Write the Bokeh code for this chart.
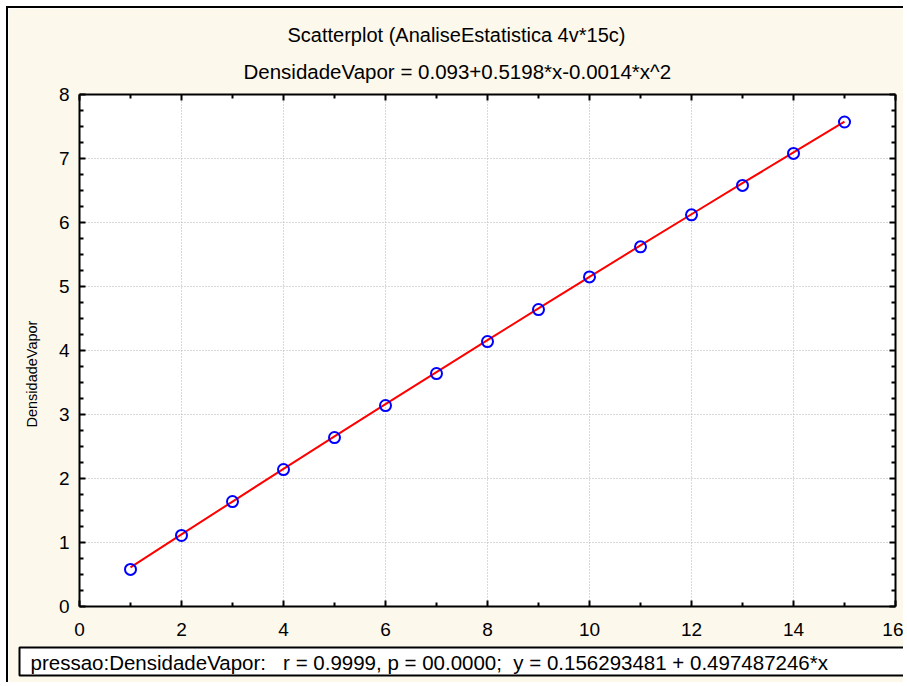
from bokeh.plotting import figure
from bokeh.models import LinearAxis, FixedTicker, Range1d, Title
from bokeh.embed import file_html
from bokeh.resources import INLINE

pressao = [1, 2, 3, 4, 5, 6, 7, 8, 9, 10, 11, 12, 13, 14, 15]
densidade = [0.58, 1.11, 1.64, 2.14, 2.64, 3.14, 3.64, 4.14, 4.64, 5.15, 5.62, 6.12, 6.58, 7.08, 7.57]
fit_coef = [0.093, 0.5198, -0.0014]
x_ticks = [0, 2, 4, 6, 8, 10, 12, 14, 16]
y_ticks = [0, 1, 2, 3, 4, 5, 6, 7, 8]
title1 = "Scatterplot (AnaliseEstatistica 4v*15c)"
title2 = "DensidadeVapor = 0.093+0.5198*x-0.0014*x^2"
stats = "pressao:DensidadeVapor:\u00a0\u00a0\u00a0r = 0.9999, p = 00.0000;\u00a0\u00a0y = 0.156293481 + 0.497487246*x"
ylabel = "DensidadeVapor"

fit_y = [fit_coef[0] + fit_coef[1] * x + fit_coef[2] * x * x for x in pressao]

FONT = "Liberation Sans"
CREAM = "#FDF8EC"

W, H = 897, 676
p = figure(width=W, height=H, output_backend="svg", toolbar_location=None,
           x_range=Range1d(0, 16), y_range=Range1d(0, 8),
           min_border_left=71, min_border_right=10, min_border_top=86, min_border_bottom=78,
           background_fill_color="white", border_fill_color=CREAM, outline_line_color=None)
p.title = None
p.styles = {"margin-left": "6px", "margin-top": "6px",
            "border-left": "2px solid black", "border-top": "2px solid black"}

xminor = [v + 1 for v in x_ticks[:-1]]
yminor = [t + k * 0.25 for t in y_ticks[:-1] for k in (1, 2, 3)]


def style_axis(ax):
    ax.axis_line_width = 2
    ax.axis_line_color = "black"
    ax.major_tick_in = 6
    ax.major_tick_out = 0
    ax.minor_tick_in = 4
    ax.minor_tick_out = 0
    ax.major_tick_line_width = 2
    ax.minor_tick_line_width = 2
    ax.major_label_text_font = FONT
    ax.major_label_text_font_size = "19px"
    ax.major_label_text_color = "black"


xt = FixedTicker(ticks=x_ticks, minor_ticks=xminor)
yt = FixedTicker(ticks=y_ticks, minor_ticks=yminor)

p.xaxis.ticker = xt
p.yaxis.ticker = yt
style_axis(p.xaxis[0])
style_axis(p.yaxis[0])
p.xaxis.major_label_standoff = 16
p.yaxis.major_label_standoff = 10

top = LinearAxis(ticker=xt)
style_axis(top)
top.major_label_text_font_size = "0px"
top.major_label_text_color = None
top.major_label_standoff = 0
p.add_layout(top, "above")
right = LinearAxis(ticker=yt)
style_axis(right)
right.major_label_text_font_size = "0px"
right.major_label_text_color = None
right.major_label_standoff = 0
p.add_layout(right, "right")

p.xgrid.ticker = xt
p.ygrid.ticker = yt
p.grid.grid_line_color = "#B4B4B4"
p.grid.grid_line_dash = "1 2"
p.grid.grid_line_width = 1

p.line(pressao, fit_y, line_color="red", line_width=2)
p.scatter(pressao, densidade, marker="circle", size=11, fill_color=None,
          line_color="blue", line_width=2)

p.add_layout(Title(text=ylabel, align="left", offset=179, standoff=28, vertical_align="top",
                   text_font=FONT, text_font_size="14.5px", text_font_style="normal",
                   text_color="black"), "left")

p.add_layout(Title(text=title2, align="left", offset=164, standoff=24,
                   text_font=FONT, text_font_size="20.5px", text_font_style="normal",
                   text_color="black"), "above")
p.add_layout(Title(text=title1, align="left", offset=208, standoff=0,
                   text_font=FONT, text_font_size="20px", text_font_style="normal",
                   text_color="black"), "above")

p.add_layout(Title(text=stats, align="left", offset=-60, standoff=14,
                   text_font=FONT, text_font_size="20.5px", text_font_style="normal",
                   text_color="black",
                   background_fill_color="white", border_line_color="black",
                   border_line_width=2,
                   padding=dict(left=11, right=110, top=3, bottom=2)), "below")

open("out.html", "w").write(file_html(p, INLINE))
